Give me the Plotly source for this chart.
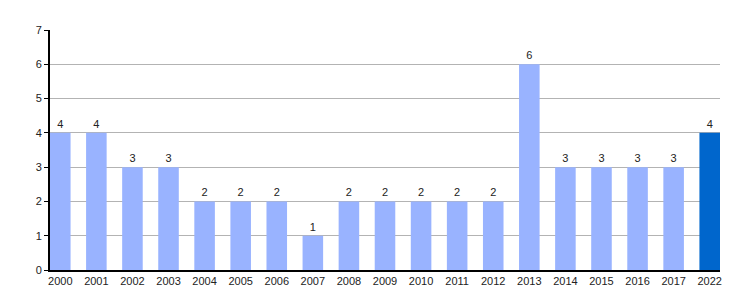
import plotly.graph_objects as go

years = ["2000","2001","2002","2003","2004","2005","2006","2007","2008","2009",
         "2010","2011","2012","2013","2014","2015","2016","2017","2022"]
counts = [4,4,3,3,2,2,2,1,2,2,2,2,2,6,3,3,3,3,4]
colors = ["#99b3ff"]*18 + ["#0066cc"]

bw = 0.57
fig = go.Figure(go.Bar(
    x=years, y=counts, marker=dict(color=colors, line=dict(width=0)),
    width=bw, text=[str(c) for c in counts], textposition="outside",
    textfont=dict(size=11, color="#222"), cliponaxis=False,
))
fig.update_layout(
    width=750, height=300, margin=dict(l=50, r=30, t=30, b=30),
    plot_bgcolor="white", paper_bgcolor="white",
    font=dict(family="Liberation Sans, Arial", size=11, color="#222"),
    showlegend=False,
)
fig.update_xaxes(type="category", range=[-bw/2, len(years)-1+bw/2],
                 showline=True, linecolor="black", linewidth=2,
                 ticks="", showgrid=False, tickfont=dict(size=11))
fig.update_yaxes(range=[0, 7], dtick=1, showline=True, linecolor="black", linewidth=2,
                 ticks="outside", ticklen=4, tickcolor="black", tickwidth=1,
                 showgrid=True, gridcolor="#b3b3b3", gridwidth=1, zeroline=False,
                 tickfont=dict(size=11))
fig.write_html("out.html")
